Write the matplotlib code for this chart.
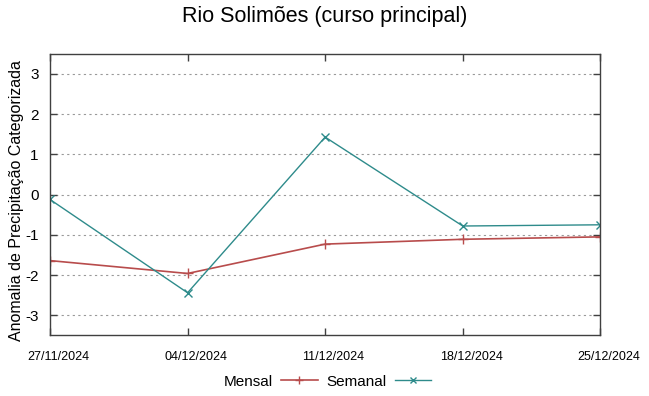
import matplotlib
matplotlib.use("Agg")
import matplotlib.pyplot as plt

dates = ["27/11/2024", "04/12/2024", "11/12/2024", "18/12/2024", "25/12/2024"]
mensal = [-1.64, -1.96, -1.23, -1.11, -1.05]
semanal = [-0.12, -2.44, 1.43, -0.78, -0.75]
yticks = [-3, -2, -1, 0, 1, 2, 3]

plt.rcParams['font.family'] = ['Liberation Sans', 'DejaVu Sans']

fig = plt.figure(figsize=(6.49, 3.96), dpi=100)
ax = fig.add_axes([0.077, 0.153, 0.848, 0.711])

x = list(range(len(dates)))
l1, = ax.plot(x, mensal, color='#b84c4c', lw=1.2, marker='+', ms=7, mew=1.0)
l2, = ax.plot(x, semanal, color='#2e8b8b', lw=1.0, marker='x', ms=6, mew=1.0)

ax.set_xlim(0, len(dates) - 1)
ax.set_ylim(-3.5, 3.5)
ax.set_xticks(x)
ax.set_xticklabels([])
# gnuplot-like: date labels sit a little right of their ticks
for xi, d in zip(x, dates):
    ax.annotate(d, xy=(xi, 0), xycoords=ax.get_xaxis_transform(),
                xytext=(6, -15.5), textcoords='offset points',
                ha='center', va='center', fontsize=9,
                family=['Liberation Sans Narrow', 'Liberation Sans'], annotation_clip=False)
ax.set_yticks(yticks)
ax.set_yticklabels([str(v) for v in yticks], fontsize=11)
ax.tick_params(direction='in', top=True, right=True, length=5, width=1, color='#404040')
ax.tick_params(axis='y', pad=8)
ax.grid(axis='y', ls=(0, (2, 3)), color='#999999', lw=0.8)
for s in ax.spines.values():
    s.set_color('#404040')
    s.set_linewidth(1.0)

ax.set_ylabel("Anomalia de Precipitação Categorizada", fontsize=11.5)
ax.yaxis.set_label_coords(-0.047, 0.48)
fig.suptitle("Rio Solimões (curso principal)", fontsize=15.5, y=0.985)

fig.legend([l1, l2], ["Mensal", "Semanal"], loc='center', bbox_to_anchor=(0.505, 0.036),
           ncol=2, frameon=False, markerfirst=False, fontsize=11, handlelength=2.4,
           columnspacing=0.6, handletextpad=0.5, markerscale=0.8)

fig.savefig("out.png", dpi=100)
